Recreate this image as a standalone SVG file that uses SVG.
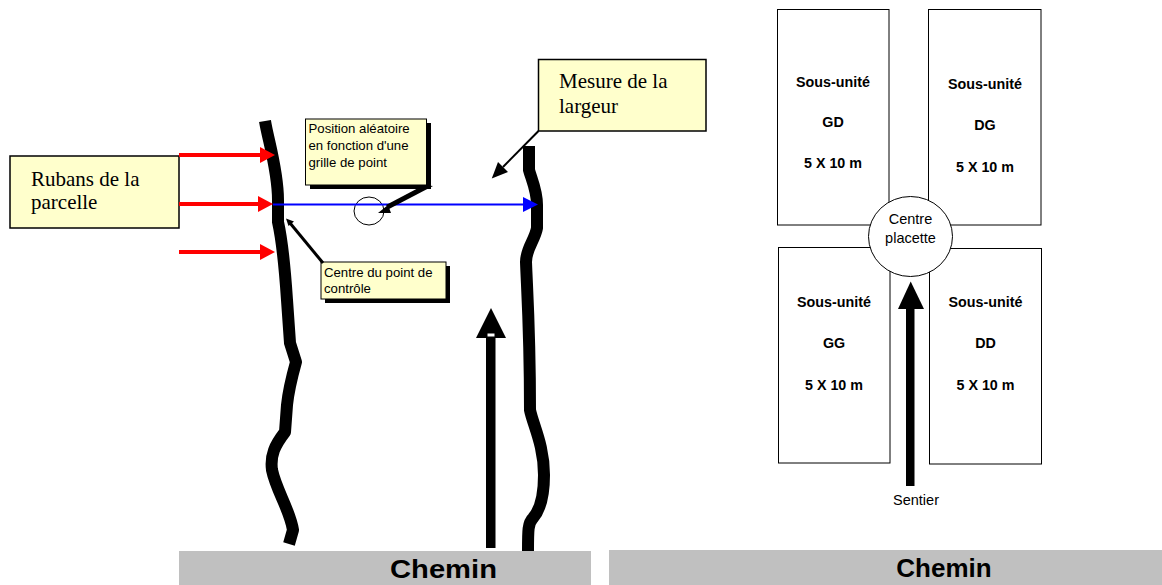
<svg xmlns="http://www.w3.org/2000/svg" width="1162" height="585" viewBox="0 0 1162 585">
<style>
.note{fill:#FFFFCC;stroke:#000;stroke-width:1.5}
.serif{font-family:"Liberation Serif","Times New Roman",serif;font-size:21px;fill:#000}
.small{font-family:"Liberation Sans",Arial,sans-serif;font-size:13.2px;fill:#000}
.bank{fill:none;stroke:#000;stroke-width:12;stroke-linejoin:round}
.unit{fill:#fff;stroke:#000;stroke-width:1}
.ulab{font-family:"Liberation Sans",Arial,sans-serif;font-size:14.3px;font-weight:bold;text-anchor:middle;fill:#000}
.nlab{font-family:"Liberation Sans",Arial,sans-serif;font-size:14.5px;text-anchor:middle;fill:#000}
.road{fill:#C0C0C0}
.roadlab{font-family:"Liberation Sans",Arial,sans-serif;font-size:26px;font-weight:bold;text-anchor:middle;fill:#000}
</style>
<defs>
<marker id="redhead" markerUnits="userSpaceOnUse" markerWidth="16" markerHeight="16" refX="0" refY="8" orient="auto" overflow="visible">
<path d="M0,0 L15,8 L0,16 z" fill="#FF0000"/>
</marker>
<marker id="bluehead" markerUnits="userSpaceOnUse" markerWidth="16" markerHeight="16" refX="0" refY="7.5" orient="auto" overflow="visible">
<path d="M0,0 L15,7.5 L0,15 z" fill="#0000FF"/>
</marker>
<marker id="blackhead" markerUnits="userSpaceOnUse" markerWidth="16" markerHeight="14" refX="0" refY="7" orient="auto" overflow="visible">
<path d="M0,0 L16,7 L0,14 z" fill="#000"/>
</marker>
</defs>
<rect width="1162" height="585" fill="#fff"/>

<!-- roads -->
<g id="chemin-left">
<rect class="road" x="179" y="551" width="412" height="34"/>
<text class="roadlab" x="443.5" y="578" textLength="107" lengthAdjust="spacingAndGlyphs">Chemin</text>
</g>
<g id="chemin-right">
<rect class="road" x="609" y="550" width="553" height="35"/>
<text class="roadlab" x="944" y="577">Chemin</text>
</g>

<!-- river banks -->
<g id="bank-left">
<path class="bank" d="M265,121 C268,140 278,170 278,200 L278,222 C282,240 285,270 287,300 L290,343 L296,362 C291,380 288,395 287,405 L285,432 C275,445 270,455 272,470 C276,490 290,510 293,530 L289,544"/>
</g>
<g id="bank-right">
<path class="bank" d="M529,146 L529,170 C531,178 537,190 537,205 L537,228 C535,240 526,248 526,262 C527,290 530,330 530,410 C533,425 544,445 544,475 C544,495 540,510 533,518 C528,523 528,530 528,551"/>
</g>

<!-- sample point circle -->
<g id="point-circle">
<ellipse cx="369" cy="211" rx="15" ry="14" fill="none" stroke="#000" stroke-width="1"/>
</g>

<!-- notes -->
<g id="note-rubans">
<rect class="note" x="10" y="156" width="169" height="72"/>
<text class="serif" x="31" y="186">Rubans de la</text>
<text class="serif" x="31" y="209">parcelle</text>
</g>
<g id="note-mesure">
<rect class="note" x="538.5" y="59.5" width="167.5" height="71.5"/>
<text class="serif" x="559" y="88">Mesure de la</text>
<text class="serif" x="559" y="113">largeur</text>
</g>
<g id="note-position">
<rect x="310" y="123" width="121" height="66" fill="#000"/>
<rect x="305.5" y="119" width="121" height="66" fill="#FFFFCC" stroke="#000" stroke-width="1"/>
<text class="small" x="308.5" y="133">Position aléatoire</text>
<text class="small" x="308.5" y="150">en fonction d'une</text>
<text class="small" x="308.5" y="166.5">grille de point</text>
</g>
<g id="note-centre">
<rect x="325" y="266" width="125" height="37" fill="#000"/>
<rect x="321" y="262" width="125" height="37" fill="#FFFFCC" stroke="#000" stroke-width="1"/>
<text class="small" x="324" y="276.5">Centre du point de</text>
<text class="small" x="324" y="292.5">contrôle</text>
</g>

<!-- right plot -->
<g id="unit-GD">
<rect class="unit" x="777.5" y="9.5" width="111.5" height="215.5"/>
<text class="ulab" x="833" y="87">Sous-unité</text>
<text class="ulab" x="833" y="127">GD</text>
<text class="ulab" x="833" y="168">5 X 10 m</text>
</g>
<g id="unit-DG">
<rect class="unit" x="928.5" y="9.5" width="112.5" height="215.5"/>
<text class="ulab" x="985" y="88.5">Sous-unité</text>
<text class="ulab" x="985" y="130">DG</text>
<text class="ulab" x="985" y="172">5 X 10 m</text>
</g>
<g id="unit-GG">
<rect class="unit" x="778.5" y="247.5" width="111.5" height="215.5"/>
<text class="ulab" x="834" y="306.5">Sous-unité</text>
<text class="ulab" x="834" y="348">GG</text>
<text class="ulab" x="834" y="390">5 X 10 m</text>
</g>
<g id="unit-DD">
<rect class="unit" x="929.5" y="248.5" width="112" height="215.5"/>
<text class="ulab" x="985.5" y="307">Sous-unité</text>
<text class="ulab" x="985.5" y="348">DD</text>
<text class="ulab" x="985.5" y="390">5 X 10 m</text>
</g>
<g id="centre-placette">
<ellipse cx="910.5" cy="236.5" rx="42" ry="40" fill="#fff" stroke="#000" stroke-width="1"/>
<text class="nlab" x="910.5" y="224">Centre</text>
<text class="nlab" x="910.5" y="243">placette</text>
</g>
<g id="sentier">
<text class="nlab" x="916" y="505">Sentier</text>
</g>

<!-- connectors -->
<g id="connectors">
<line x1="179" y1="155" x2="260" y2="155" stroke="#FF0000" stroke-width="4" marker-end="url(#redhead)"/>
<line x1="179" y1="204" x2="258" y2="204" stroke="#FF0000" stroke-width="4" marker-end="url(#redhead)"/>
<line x1="179" y1="252" x2="260" y2="252" stroke="#FF0000" stroke-width="4" marker-end="url(#redhead)"/>
<line x1="273" y1="204.5" x2="523" y2="204.5" stroke="#0000FF" stroke-width="2" marker-end="url(#bluehead)"/>
<line x1="538.5" y1="131" x2="503" y2="167" stroke="#000" stroke-width="2" marker-end="url(#blackhead)"/>
<polygon points="424,185 433,186 389,209 386,205" fill="#000"/>
<polygon points="378,213 388,205 391,213" fill="#000"/>
<line x1="323" y1="263" x2="290" y2="223" stroke="#000" stroke-width="3"/>
<polygon points="286,218.5 294,221.5 288.5,226" fill="#000"/>
<rect x="486" y="336" width="9.5" height="212" fill="#000"/>
<polygon points="491,308 506,338 476,338" fill="#000"/>
<rect x="487.5" y="333.5" width="7" height="3" fill="#fff"/>
<rect x="906" y="307" width="8.5" height="179" fill="#000"/>
<polygon points="910.7,281.5 924,309 898,309" fill="#000"/>
</g>
</svg>
